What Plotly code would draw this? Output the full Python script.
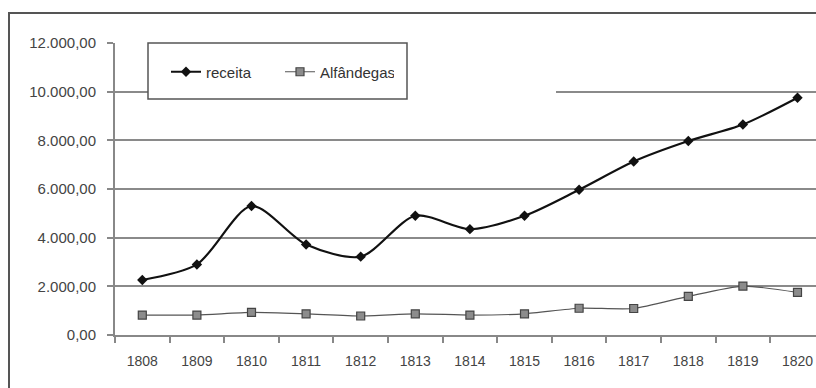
import plotly.graph_objects as go

anos = ["1808", "1809", "1810", "1811", "1812", "1813", "1814",
        "1815", "1816", "1817", "1818", "1819", "1820"]
receita = [2260, 2900, 5300, 3720, 3220, 4900, 4350,
           4900, 5970, 7130, 7970, 8650, 9750]
alfandegas = [820, 820, 930, 870, 780, 870, 820,
              870, 1100, 1090, 1590, 2010, 1750]
y_ticks = [0, 2000, 4000, 6000, 8000, 10000, 12000]
y_labels = ["0,00", "2.000,00", "4.000,00", "6.000,00",
            "8.000,00", "10.000,00", "12.000,00"]

FONT = "Liberation Sans, Arial, sans-serif"

fig = go.Figure()
fig.add_trace(go.Scatter(
    x=anos, y=receita, name="receita", mode="lines+markers",
    line=dict(color="#111111", width=2.2, shape="spline", smoothing=0.8),
    marker=dict(symbol="diamond", size=8, color="#111111"),
))
fig.add_trace(go.Scatter(
    x=anos, y=alfandegas, name="Alfândegas", mode="lines+markers",
    line=dict(color="#555555", width=1.2, shape="spline", smoothing=0.6),
    marker=dict(symbol="square", size=8, color="#8c8c8c",
                line=dict(color="#444444", width=1.2)),
))

W, H = 816, 388
L, T, B = 115, 43, 53
pw = W - L
ph = H - T - B

def px_x(px):
    return (px - L) / pw

def px_y(py):
    return (H - B - py) / ph

shapes = [
    # outer frame (extends beyond right/bottom edges)
    dict(type="rect", xref="paper", yref="paper",
         x0=px_x(9), x1=px_x(W + 20), y0=px_y(H + 20), y1=px_y(13),
         line=dict(color="#555555", width=2), layer="above"),
    # white area hiding part of the 10.000 gridline
    dict(type="rect", xref="paper", yref="paper",
         x0=px_x(148), x1=px_x(556), y0=px_y(100), y1=px_y(82),
         fillcolor="white", line=dict(width=0), layer="above"),
    # legend box
    dict(type="rect", xref="paper", yref="paper",
         x0=px_x(148), x1=px_x(407), y0=px_y(99), y1=px_y(43),
         fillcolor="white", line=dict(color="#555555", width=1.5),
         layer="above"),
]

fig.update_layout(
    width=W, height=H,
    margin=dict(l=L, r=0, t=T, b=B),
    paper_bgcolor="white", plot_bgcolor="white",
    font=dict(family=FONT, size=14, color="#444444"),
    showlegend=True,
    legend=dict(orientation="h", x=px_x(166), y=px_y(72),
                xanchor="left", yanchor="middle",
                bgcolor="rgba(0,0,0,0)", borderwidth=0,
                font=dict(family=FONT, size=15, color="#333333"),
                entrywidth=69, entrywidthmode="pixels",
                itemwidth=30, tracegroupgap=0),
    shapes=shapes,
    xaxis=dict(type="category", range=[-0.5, -0.5 + pw / 54.6],
               tickson="boundaries", ticks="outside", ticklen=6,
               tickcolor="#888888", tickwidth=2,
               ticklabelstandoff=12,
               showline=True, linecolor="#888888", linewidth=2,
               showgrid=False, zeroline=False,
               tickfont=dict(size=14, color="#444444")),
    yaxis=dict(range=[0, 12000], tickvals=y_ticks, ticktext=y_labels,
               ticks="outside", ticklen=6, tickcolor="#888888", tickwidth=2,
               ticklabelstandoff=8,
               showline=True, linecolor="#888888", linewidth=2,
               showgrid=True, gridcolor="#8a8a8a", gridwidth=1.6,
               zeroline=False, tickfont=dict(size=15, color="#444444")),
)

fig.write_html(
    "out.html",
    config={"displayModeBar": False},
    post_script="document.body.style.margin='0';"
                "document.body.style.overflow='hidden';",
)
